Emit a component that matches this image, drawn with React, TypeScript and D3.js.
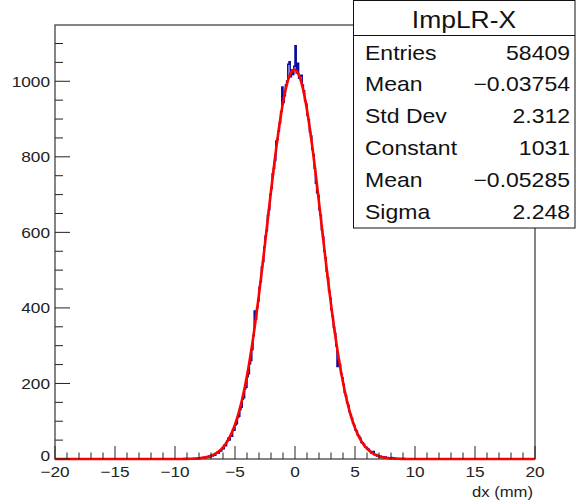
import React from "react";
import * as d3 from "d3";

// histogram ImpLR-X, bin width 0.1, first filled bin starts at -8.5
const binStart = -8.5;
const binWidth = 0.1;
const counts = [
  0, 0, 1, 0, 1, 1, 3, 2, 4, 2, 5, 4, 6, 7, 5, 9, 8, 12, 10, 15,
  18, 16, 22, 21, 28, 27, 38, 35, 47, 55, 50, 62, 60, 78, 76, 90, 93, 110, 113, 131,
  137, 158, 162, 186, 190, 218, 226, 252, 261, 290, 326, 392, 370, 401, 418, 455, 470, 508, 522, 561,
  590, 604, 645, 660, 700, 716, 755, 770, 790, 842, 846, 868, 890, 920, 985, 944, 962, 990, 1001, 1045,
  1052, 1012, 1030, 1018, 1040, 1094, 1022, 1048, 1008, 1014, 1016, 990, 975, 948, 940, 910, 899, 866, 855, 820,
  806, 770, 730, 705, 698, 660, 645, 606, 588, 550, 533, 497, 480, 444, 426, 395, 378, 348, 333, 300,
  245, 262, 250, 226, 215, 198, 176, 168, 149, 142, 125, 118, 108, 94, 89, 77, 74, 63, 60, 55,
  44, 43, 39, 32, 31, 28, 26, 22, 16, 18, 20, 11, 12, 8, 9, 6, 7, 4, 6, 3,
  5, 2, 3, 1, 2, 4, 1, 3, 1, 0, 1, 0,
];

// gaus fit parameters (from the stats box)
const fitConstant = 1031;
const fitMean = -0.05285;
const fitSigma = 2.248;

const statRows: [string, string][] = [
  ["Entries", "58409"],
  ["Mean", "\u22120.03754"],
  ["Std Dev", "2.312"],
  ["Constant", "1031"],
  ["Mean", "\u22120.05285"],
  ["Sigma", "2.248"],
];

const xMajor = [-20, -15, -10, -5, 0, 5, 10, 15, 20];
const yMajor = [0, 200, 400, 600, 800, 1000];

const W = 576;
const H = 502;
const left = 55;
const right = 535;
const top = 25;
const bottom = 459;
const font = "'Liberation Sans', Arial, Helvetica, sans-serif";
const SX = 1.15; // glyphs in the picture are a bit wide

const T = (props: any) => {
  const { x, y, children, ...rest } = props;
  return (
    <text transform={`translate(${x},${y}) scale(${SX},1)`} fontFamily={font} {...rest}>
      {children}
    </text>
  );
};

const fmt = (v: number) => (v < 0 ? "\u2212" + Math.abs(v) : String(v));

export default function App() {
  const x = d3.scaleLinear().domain([-20, 20]).range([left, right]);
  const y = d3.scaleLinear().domain([0, 1149]).range([bottom, top]);

  // step outline of the histogram
  const pts: [number, number][] = [[-20, 0]];
  counts.forEach((c, i) => {
    const lo = binStart + i * binWidth;
    pts.push([lo, c], [lo + binWidth, c]);
  });
  pts.push([binStart + counts.length * binWidth, 0], [20, 0]);
  const histPath = d3
    .line<[number, number]>()
    .x((d) => x(d[0]))
    .y((d) => y(d[1]))(pts);

  const fitPts = d3.range(-20, 20.001, 0.05);
  const fitPath = d3
    .line<number>()
    .x((d) => x(d))
    .y((d) => y(fitConstant * Math.exp(-((d - fitMean) ** 2) / (2 * fitSigma * fitSigma))))(fitPts);

  const xMinor = d3.range(-20, 21, 1).filter((v) => v % 5 !== 0);
  const yMinor = d3.range(0, 1149, 50).filter((v) => v % 200 !== 0);

  return (
    <svg width={W} height={H} style={{ position: "absolute", left: 0, top: 0 }}>
      <rect width={W} height={H} fill="#fff" />
      <rect x={left} y={top} width={right - left} height={bottom - top} fill="none" stroke="#444" strokeWidth={1.3} />
      <path d={histPath || ""} fill="none" stroke="#0a0aa0" strokeWidth={1.5} />
      <path d={fitPath || ""} fill="none" stroke="#ff0000" strokeWidth={2.6} />

      {xMajor.map((v) => (
        <g key={"xm" + v}>
          <line x1={x(v)} x2={x(v)} y1={bottom} y2={bottom - 13} stroke="#222" strokeWidth={1} />
          <T x={x(v)} y={477} fontSize={15} textAnchor="middle" fill="#222">
            {fmt(v)}
          </T>
        </g>
      ))}
      {xMinor.map((v) => (
        <line key={"xn" + v} x1={x(v)} x2={x(v)} y1={bottom} y2={bottom - 6.5} stroke="#222" strokeWidth={1} />
      ))}
      {yMajor.map((v) => (
        <g key={"ym" + v}>
          <line x1={left} x2={left + 15} y1={y(v)} y2={y(v)} stroke="#222" strokeWidth={1} />
          <T x={50} y={y(v) + (v === 0 ? 2 : 5.5)} fontSize={15} textAnchor="end" fill="#222">
            {v}
          </T>
        </g>
      ))}
      {yMinor.map((v) => (
        <line key={"yn" + v} x1={left} x2={left + 8} y1={y(v)} y2={y(v)} stroke="#222" strokeWidth={1} />
      ))}

      <T x={533} y={497} fontSize={14.5} textAnchor="end" fill="#222">
        dx (mm)
      </T>

      <g>
        <rect x={353.5} y={0.5} width={221.5} height={227.5} fill="#fff" stroke="#111" strokeWidth={1} />
        <line x1={353.5} x2={575} y1={35.5} y2={35.5} stroke="#111" strokeWidth={1} />
        <T x={464} y={28} fontSize={23} textAnchor="middle" fill="#111">
          ImpLR-X
        </T>
        {statRows.map((r, i) => (
          <g key={"s" + i}>
            <T x={365} y={59.5 + i * 31.8} fontSize={20} fill="#111">
              {r[0]}
            </T>
            <T x={570} y={59.5 + i * 31.8} fontSize={20} textAnchor="end" fill="#111">
              {r[1]}
            </T>
          </g>
        ))}
      </g>
    </svg>
  );
}
